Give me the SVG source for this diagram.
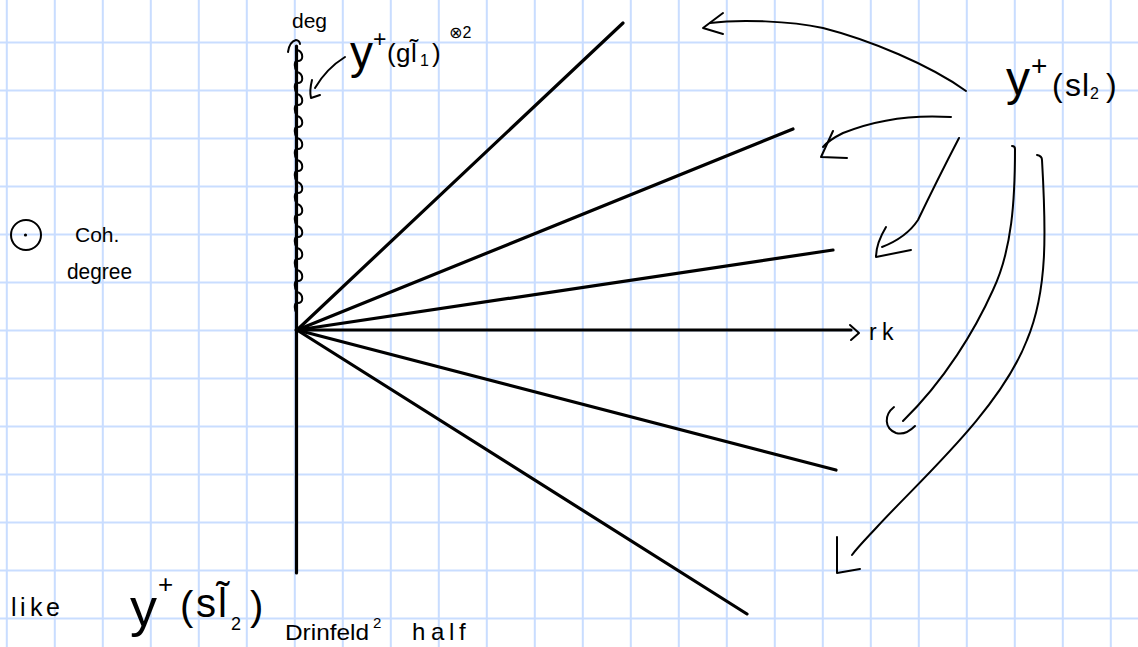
<svg xmlns="http://www.w3.org/2000/svg" width="1138" height="647" viewBox="0 0 1138 647">
<style>
.grid{stroke:#c9ddff;stroke-width:2;fill:none}
.thick{stroke:#000;stroke-width:3.2;fill:none;stroke-linecap:round;stroke-linejoin:round}
.thin{stroke:#000;stroke-width:2;fill:none;stroke-linecap:round;stroke-linejoin:round}
text{font-family:"Liberation Sans","DejaVu Sans",sans-serif;fill:#000}
</style>
<rect width="1138" height="647" fill="#fff"/>
<path class="grid" d="M6.8 0V647M54.8 0V647M102.8 0V647M150.8 0V647M198.8 0V647M246.8 0V647M294.8 0V647M342.8 0V647M390.8 0V647M438.8 0V647M486.8 0V647M534.8 0V647M582.8 0V647M630.8 0V647M678.8 0V647M726.8 0V647M774.8 0V647M822.8 0V647M870.8 0V647M918.8 0V647M966.8 0V647M1014.8 0V647M1062.8 0V647M1110.8 0V647M0 42.6H1138M0 90.6H1138M0 138.6H1138M0 186.6H1138M0 234.6H1138M0 282.6H1138M0 330.6H1138M0 378.6H1138M0 426.6H1138M0 474.6H1138M0 522.6H1138M0 570.6H1138M0 618.6H1138"/>
<g id="axes">
<path class="thick" d="M296.5 46V573"/>
<path class="thin" d="M288 52C289 45 292 41 296 40C298 40 300 42 300 44"/>
<path class="thin" d="M297 50c7 2 7 12 0 11c-3 0-3 7 0 11c7 2 7 12 0 11c-3 0-3 7 0 11c7 2 7 12 0 11c-3 0-3 7 0 11c7 2 7 12 0 11c-3 0-3 7 0 11c7 2 7 12 0 11c-3 0-3 7 0 11c7 2 7 12 0 11c-3 0-3 7 0 11c7 2 7 12 0 11c-3 0-3 7 0 11c7 2 7 12 0 11c-3 0-3 7 0 11c7 2 7 12 0 11c-3 0-3 7 0 11c7 2 7 12 0 11c-3 0-3 7 0 11c7 2 7 12 0 11c-3 0-3 7 0 11c7 2 7 12 0 11c-3 0-3 7 0 11"/>
<path class="thick" d="M296 330H851"/>
<path class="thin" d="M850 325L859 333L851 340"/>
</g>
<g id="rays">
<path class="thick" d="M297 330L623 23"/>
<path class="thick" d="M297 330L793 129"/>
<path class="thick" d="M297 330L833 250"/>
<path class="thick" d="M297 330L836 470"/>
<path class="thick" d="M297 330L747 614"/>
</g>
<g id="connectors">
<path class="thin" d="M966 91C930 65 870 40 823 28C790 21 740 19 710 23"/>
<path class="thin" d="M723 13L703 28L723 34"/>
<path class="thin" d="M951 117C920 115 880 118 843 133C835 137 828 141 823 147"/>
<path class="thin" d="M833 131L821 157L847 158"/>
<path class="thin" d="M959 138C945 165 930 195 918 220C908 235 895 242 882 247"/>
<path class="thin" d="M886 227C880 237 876 248 876 257L911 250"/>
<path class="thin" d="M1012 146Q1015 146 1015 149C1015 200 1012 250 993 290C975 330 945 380 903 421"/>
<path class="thin" d="M894 407C884 415 884 428 896 433C903 435 910 431 915 426"/>
<path class="thin" d="M1037 155Q1042 156 1042 160C1046 230 1048 290 1027 340C1000 410 920 480 877 527C865 540 857 548 852 555"/>
<path class="thin" d="M837 537L837 573L860 569"/>
<path class="thin" d="M345 57C332 65 322 76 315 88"/>
<path class="thin" d="M312 80C310 88 310 94 311 98L320 95"/>
</g>
<g id="label-deg"><text x="292" y="28" font-size="21">deg</text></g>
<g id="label-rk"><text font-size="23"><tspan x="869" y="340">r</tspan><tspan x="882" y="340">k</tspan></text></g>
<g id="label-gl1">
<text font-size="26"><tspan x="350" y="68" font-size="46">y</tspan><tspan x="373" y="47" font-size="23">+</tspan><tspan x="387" y="62">(</tspan><tspan x="396" y="62">g</tspan><tspan x="411" y="62">l̃</tspan><tspan x="420" y="66" font-size="16">1</tspan><tspan x="432" y="62">)</tspan><tspan x="449" y="38" font-size="16">⊗2</tspan></text>
</g>
<g id="label-sl2">
<text font-size="32"><tspan x="1006" y="95" font-size="48">y</tspan><tspan x="1031" y="75" font-size="28">+</tspan><tspan x="1052" y="96">(</tspan><tspan x="1065" y="96">s</tspan><tspan x="1082" y="96">l</tspan><tspan x="1090" y="99" font-size="16">2</tspan><tspan x="1106" y="96">)</tspan></text>
</g>
<g id="label-coh">
<circle cx="26" cy="235" r="15" class="thin"/>
<circle cx="25.5" cy="235" r="1.6" fill="#000"/>
<text x="75" y="242" font-size="21">Coh.</text>
<text x="67" y="279" font-size="22" textLength="65" lengthAdjust="spacingAndGlyphs">degree</text>
</g>
<g id="label-like">
<text font-size="25"><tspan x="11" y="616">l</tspan><tspan x="20" y="616">i</tspan><tspan x="30" y="616">k</tspan><tspan x="46" y="616">e</tspan></text>
<text font-size="40"><tspan x="130" y="626" font-size="54">y</tspan><tspan x="158" y="593" font-size="26">+</tspan><tspan x="180" y="620">(</tspan><tspan x="196" y="617">s</tspan><tspan x="218" y="617">l̃</tspan><tspan x="231" y="630" font-size="18">2</tspan><tspan x="250" y="620">)</tspan></text>
<text x="285" y="640" font-size="22" textLength="84" lengthAdjust="spacingAndGlyphs">Drinfeld</text>
<text x="373" y="628" font-size="15">2</text>
<text font-size="24"><tspan x="412" y="640">h</tspan><tspan x="431" y="640">a</tspan><tspan x="449" y="640">l</tspan><tspan x="459" y="640">f</tspan></text>
</g>
</svg>
